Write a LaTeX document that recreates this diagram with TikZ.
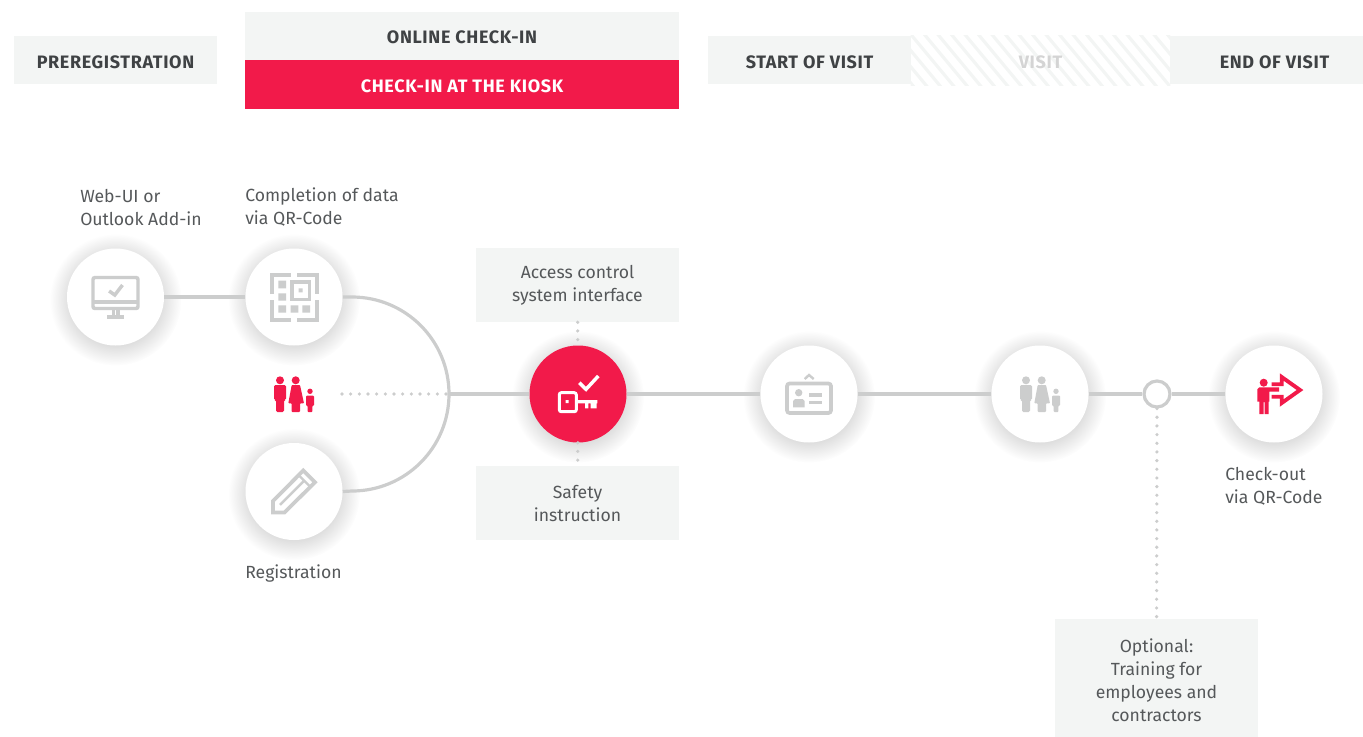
\documentclass[tikz,border=0pt]{standalone}
\usepackage{fontspec}
\setmainfont{Fira Sans}
\newfontfamily\headfont[LetterSpace=3.6]{Fira Sans}
\usetikzlibrary{calc,positioning,graphs,shadows,fadings}

\definecolor{kioskred}{HTML}{F21A4A}
\definecolor{boxgray}{HTML}{F3F5F4}
\definecolor{linegray}{HTML}{CCCDCD}
\definecolor{textgray}{HTML}{55585A}
\definecolor{headgray}{HTML}{3F4244}
\tikzfading[name=soft halo, inner color=transparent!58, outer color=transparent!100]

\tikzset{
	conn/.style = {draw=linegray, line width=2.4pt},
	dots/.style = {draw=linegray, line width=2.7pt, line cap=round, dash pattern=on 0pt off 6.5pt},
	headtext/.style = {inner sep=0pt, text height=12.2pt, text depth=0pt, font=\headfont\fontsize{13.5}{15}\selectfont\bfseries},
	stage/.style = {headtext, fill=boxgray, text=headgray, minimum height=36pt},
	infobox/.style = {fill=boxgray, text=textgray, inner sep=0pt, minimum width=152.25pt, align=center, font=\fontsize{13.2}{17.25}\selectfont},
	caption/.style = {text=textgray, inner sep=0pt, anchor=west, align=left, font=\fontsize{13.2}{17.25}\selectfont},
	station/.style = {circle, fill=white, inner sep=0pt, minimum size=72.75pt,
		general shadow={shadow xshift=0pt, shadow yshift=-1.5pt, shadow scale=1.36, fill=black, path fading=soft halo}},
	monitor icon/.pic = {
		\draw[pic actions, fill=none, rounded corners=1.5pt, line width=2.6pt] (-22.5,-19.5) rectangle (22.5,11.5);
		\draw[pic actions, line width=2.6pt] (-22.5,5) -- (22.5,5);
		\fill[pic actions] (-3.5,13) rectangle (-1,18) (1,13) rectangle (3.5,18) (-8,18) rectangle (8,21);
		\draw[pic actions, fill=none, line width=2.6pt] (-6.4,-6) -- (-.7,-2) -- (7,-12);
	},
	qr icon/.pic = {
		\draw[pic actions, fill=none, line width=3pt] (-22.5,-3) -- (-22.5,-22.5) -- (-3,-22.5) (3,-22.5) -- (22.5,-22.5) -- (22.5,-3)
			(22.5,3) -- (22.5,22.5) -- (3,22.5) (-3,22.5) -- (-22.5,22.5) -- (-22.5,3);
		\fill[pic actions, draw=none] (-15.7,-16.3) rectangle (-8,-8.7) (-15.7,-3.7) rectangle (-8,3.7) (-15.7,8.3) rectangle (-8,15.7)
			(-3.3,8.3) rectangle (4.3,15.7) (8.3,8.3) rectangle (16,15.7) (4.7,-8.7) rectangle (8.7,-4.7);
		\draw[pic actions, fill=none, line width=2.4pt] (-2,-15) rectangle (15.4,2.4);
	},
	pencil icon/.pic = {
		\draw[pic actions, fill=none, line width=2.8pt, line join=miter] (-21,21) -- (-21,9.5) -- (9.3,-21) -- (21,-9.3) -- (-9.5,21) -- cycle;
		\draw[pic actions, fill=none, line width=1.8pt] (4.5,-16.5) -- (16.5,-4.5) (-14,13.3) -- (9.3,-10);
	},
	family icon/.pic = {
		\fill[pic actions] (-14,-13.7) circle (4) (1.7,-13.7) circle (4) (16,-2.7) circle (2.7);
		\fill[pic actions, rounded corners=1pt] (-20,6) -- (-20,-9) -- (-8,-9) -- (-8,6) -- (-10,6) -- (-10,18) -- (-18,18) -- (-18,6) -- cycle;
		\fill[pic actions, rounded corners=.6pt] (-2.3,-9) -- (6,-9) -- (10,9.3) -- (6,9.3) -- (6,18) -- (-2.3,18) -- (-2.3,9.3) -- (-5.7,9.3) -- cycle;
		\fill[pic actions, rounded corners=.6pt] (12,11.7) -- (12,1.7) -- (20,1.7) -- (20,11.7) -- (18.3,11.7) -- (18.3,18) -- (13.7,18) -- (13.7,11.7) -- cycle;
	},
	key icon/.pic = {
		\draw[pic actions, fill=none, line width=2.2pt, rounded corners=1.5pt] (-18.7,-1.3) rectangle (-1.7,17.7);
		\fill[pic actions, draw=none] (-12.5,6.2) rectangle (-9.5,9.2) (-.7,6) rectangle (19.3,9.3)
			(7,9.3) rectangle (10.3,14.3) (12.7,9.3) rectangle (18.7,14.3);
		\draw[pic actions, fill=none, line width=2.6pt] (1.3,-11.3) -- (8,-4.7) -- (20.3,-18);
	},
	badge icon/.pic = {
		\draw[pic actions, fill=none, line width=2.8pt, rounded corners=2pt] (-22,-10.5) rectangle (22,19);
		\fill[pic actions, draw=none] (-10.3,-1.3) circle (3.7) (-16,13.3) -- (-16,7) -- (-14,5) -- (-6.3,5) -- (-4.3,7) -- (-4.3,13.3) -- cycle;
		\draw[pic actions, fill=none, line width=2.4pt] (0,1) -- (13.3,1) (0,8.3) -- (13.3,8.3);
		\draw[pic actions, fill=none, line width=1.8pt] (-4.3,-15) -- (0,-19) -- (4.7,-15);
	},
	checkout icon/.pic = {
		\fill[pic actions, draw=none] (-10.3,-11.3) circle (4);
		\fill[pic actions, draw=none] (-16.7,7.7) -- (-16.7,-4.7) -- (-14.7,-6.7) -- (5,-6.7) -- (5,-2.3) -- (-4.7,-2.3) -- (-4.7,7.7) -- (-5.3,7.7) -- (-5.3,20) -- (-9.5,20) -- (-9.5,8) -- (-10.5,8) -- (-10.5,20) -- (-14.7,20) -- (-14.7,7.7) -- cycle;
		\draw[pic actions, fill=none, line width=2.9pt, line join=miter] (-2.3,-9.7) -- (7.7,-9.7) -- (7.7,-17) -- (26,-4) -- (7.7,9) -- (7.7,2.7) -- (-2.3,2.7);
	}
}

\begin{document}
\begin{tikzpicture}[x=.75pt, y=-.75pt]
\useasboundingbox (0,0) rectangle (1363,736);

% header
\node[stage, minimum width=152.25pt]								 at (115.5,60)	(preregistration) {PREREGISTRATION};
\node[stage, minimum width=325.5pt]									 at (462,35.5)	(online)   {ONLINE CHECK-IN};
\node[stage, minimum width=325.5pt, fill=kioskred, text=white, minimum height=36.75pt] at (462,84.5)	(kiosk)	   {CHECK-IN AT THE KIOSK};
\node[stage, minimum width=152.25pt]								 at (809.5,60)	(start visit) {START OF VISIT};
\node[inner sep=0pt, minimum width=194.25pt, minimum height=36.75pt] at (1040.5,60.5)	(visit area) {};
\begin{scope}
	\clip (visit area.north west) rectangle (visit area.south east);
	\foreach \i in {870,883.5,...,1170}
		\draw[boxgray, line width=2.4pt] (\i,34) -- ++(44,53);
\end{scope}
\node[headtext, text=linegray!85]  at (visit area)	(visit)	   {VISIT};
\node[stage, minimum width=156.75pt]								 at (1274.5,60)	(end visit) {END OF VISIT};

% captions
\node[caption] at (80,207.5)	(web caption)	   {Web-UI or\\Outlook Add-in};
\node[caption] at (245,207.5)	(qr caption)	   {Completion of data\\via QR-Code};
\node[caption] at (245,574)		(register caption) {Registration};
\node[caption] at (1225,486.5)	(checkout caption) {Check-out\\via QR-Code};

% info boxes
\node[infobox, minimum height=55.5pt]	at (577.5,285)	 (access)	{Access control\\system interface};
\node[infobox, minimum height=55.5pt]	at (577.5,503)	 (safety)	{Safety\\instruction};
\node[infobox, minimum height=91.5pt]	at (1156.5,680)  (training) {Optional:\\Training for\\employees and\\contractors};

% stations
\node[station]									 at (115.5,297)	(web)	   {};
\node[station]									 at (294,297)	(qr)	   {};
\node[station]									 at (294,491.5)	(pencil)   {};
\node[station, fill=kioskred]					 at (578,394)	(key)	   {};
\node[station]									 at (809,394)	(badge)	   {};
\node[station]									 at (1040,394)	(family)   {};
\node[circle, draw=linegray, line width=2.4pt, fill=white, inner sep=0pt, minimum size=19.5pt] at (1157,394) (option) {};
\node[station]									 at (1274,394)	(checkout) {};
\coordinate (bend) at (449,394);
\coordinate (dots start) at (342,394);

\graph[edges={conn}]{
	(web) -- (qr);
	(bend) -- (key) -- (badge) -- (family) -- (option) -- (checkout);
};
\draw[conn] (qr.east) -- (352,297) arc[start angle=-90, end angle=90, radius=97] -- (pencil.east);
\draw[dots] (dots start) -- (bend);
\draw[dots] (access) -- (key);
\draw[dots] (key) -- (safety);
\draw[dots] (option) -- (training);

% icons
\pic[draw=linegray, fill=linegray] at (web) {monitor icon};
\pic[draw=linegray, fill=linegray] at (qr) {qr icon};
\pic[draw=linegray, fill=linegray] at (pencil) {pencil icon};
\pic[fill=kioskred] at (294,394) {family icon};
\pic[draw=white, fill=white] at (key) {key icon};
\pic[draw=linegray, fill=linegray] at (badge) {badge icon};
\pic[fill=linegray] at (family) {family icon};
\pic[draw=kioskred, fill=kioskred] at (checkout) {checkout icon};
\end{tikzpicture}
\end{document}
